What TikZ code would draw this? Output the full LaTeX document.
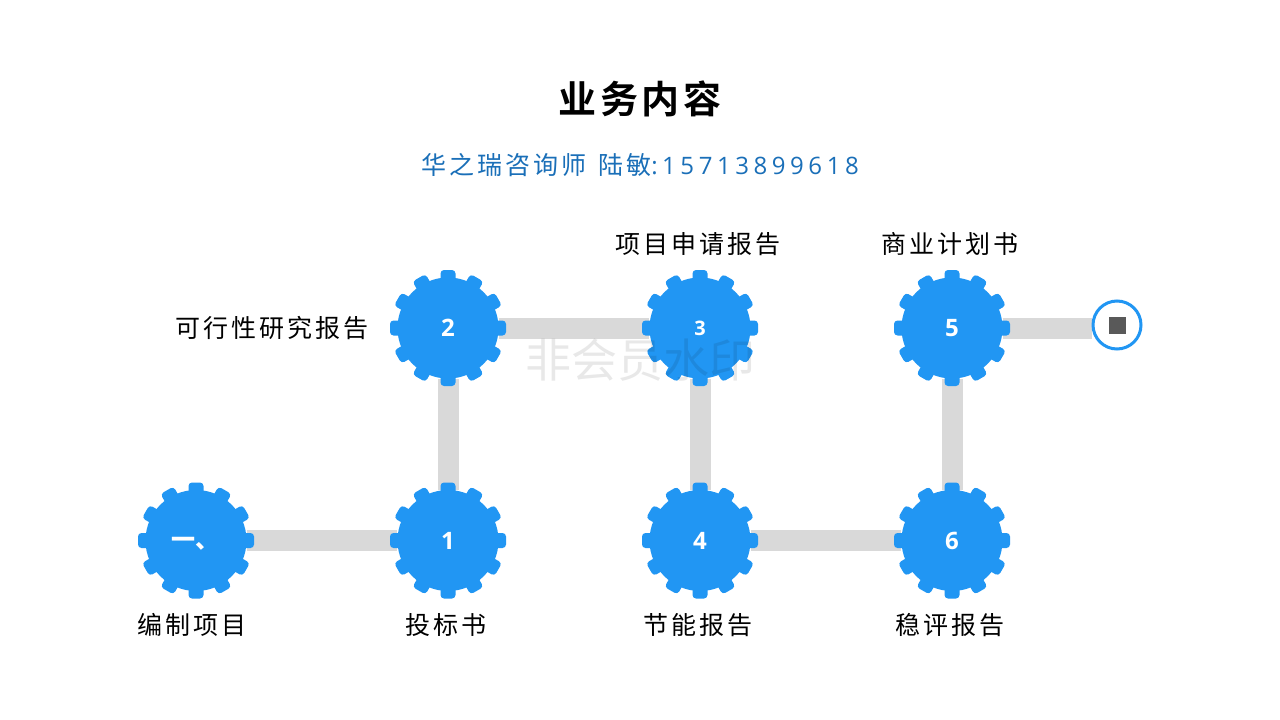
\documentclass[tikz,border=0pt]{standalone}
\usepackage{fontspec}
\usetikzlibrary{backgrounds}
\setmainfont{Noto Sans CJK SC}
\newfontfamily\cjkwide[LetterSpace=12]{Noto Sans CJK SC}
\newfontfamily\cjktitle[LetterSpace=9,BoldFont={Noto Sans CJK SC Bold}]{Noto Sans CJK SC}
\newfontfamily\latinwide[LetterSpace=19]{Open Sans}
\newfontfamily\latinnum{Open Sans}
\definecolor{gearblue}{HTML}{2196F3}
\definecolor{linkgray}{HTML}{D9D9D9}
\definecolor{subblue}{HTML}{1A6FB8}
\definecolor{stopgray}{HTML}{595959}
\tikzset{
  x=1pt,y=-1pt,
  gearbody/.style={circle,fill=gearblue,minimum size=101pt,inner sep=0pt,text=white,font=\latinnum\bfseries\fontsize{24}{24}\selectfont},
  tooth/.style={fill=gearblue,rounded corners=3.5pt},
  link/.style={linkgray,line width=21pt},
  caption/.style={font=\cjkwide\fontsize{25}{28}\selectfont,text=black,inner sep=0pt},
}
% A gear: twelve rounded teeth round a disc that carries the number
\newcommand{\gearat}[4]{%
  \foreach \a in {0,30,...,330}{
    \fill[tooth,shift={(#2,#3)},rotate=\a] (-7.5,-58) rectangle (7.5,-40);
  }
  \node[gearbody] (#1) at (#2,#3) {#4};
}
\begin{document}
\begin{tikzpicture}
\useasboundingbox (0,0) rectangle (1280,720);
\begin{scope}[on background layer]
  \fill[white] (0,0) rectangle (1280,720);
\end{scope}

\node[inner sep=0pt,font=\cjktitle\bfseries\fontsize{38}{42}\selectfont] (title) at (640,99) {业务内容};
\node[inner sep=0pt,text=subblue,font=\fontsize{25}{28}\selectfont] (sub) at (640,165)
  {{\cjkwide 华之瑞咨询师}\hspace{12pt}{\cjkwide 陆敏}{\fontsize{24}{28}\selectfont\latinwide :15713899618}};

\gearat{g0}{196}{540.5}{}
\gearat{g1}{448}{540.5}{1}
\gearat{g2}{448}{328}{2}
\gearat{g3}{700}{328}{\fontsize{20}{20}\selectfont 3}
\gearat{g4}{700}{540.5}{4}
\gearat{g5}{952}{328}{5}
\gearat{g6}{952}{540.5}{6}

% First step carries a written ordinal instead of a digit
\node[inner sep=0pt,anchor=west,text=white,font=\bfseries\fontsize{24}{24}\selectfont] (first) at (171,544) {一、};

\node[circle,draw=gearblue,line width=3pt,fill=white,minimum size=48pt,inner sep=0pt] (stop) at (1117,325) {};
\node[fill=stopgray,minimum size=17pt,inner sep=0pt] (stopmark) at (stop.center) {};
\coordinate (linkend) at (stop.west |- g5);

\begin{scope}[on background layer]
  \draw[link] (g0) -- (g1);
  \draw[link] (g1) -- (g2);
  \draw[link] (g2) -- (g3);
  \draw[link] (g3) -- (g4);
  \draw[link] (g4) -- (g6);
  \draw[link] (g6) -- (g5);
  \draw[link] (g5) -- (linkend);
\end{scope}

\node[caption] (c0) at (192,625) {编制项目};
\node[caption] (c1) at (446,625) {投标书};
\node[caption] (c2) at (272,328) {可行性研究报告};
\node[caption] (c3) at (698,244) {项目申请报告};
\node[caption] (c4) at (698,625) {节能报告};
\node[caption] (c5) at (950,244) {商业计划书};
\node[caption] (c6) at (950,625) {稳评报告};

\node[inner sep=0pt,text=black,opacity=0.09,font=\fontsize{46}{50}\selectfont] (wm) at (640,360) {非会员水印};
\end{tikzpicture}
\end{document}
